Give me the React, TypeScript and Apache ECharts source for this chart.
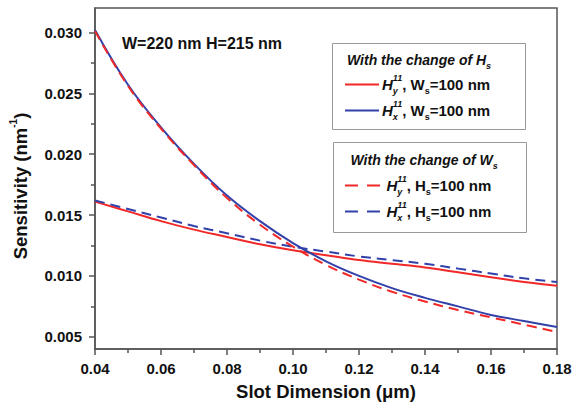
import React, { useEffect, useRef } from "react";
import * as echarts from "echarts";

// Slot dimension (µm)
const X_VALUES = [0.04, 0.05, 0.06, 0.07, 0.08, 0.09, 0.10, 0.11, 0.12, 0.13, 0.14, 0.15, 0.16, 0.17, 0.18];
// With the change of Hs (solid)
const HY_HS = [0.0161, 0.0153, 0.0145, 0.0138, 0.0132, 0.0126, 0.0121, 0.0117, 0.0113, 0.0110, 0.0107, 0.0103, 0.0099, 0.0095, 0.0092];
const HX_HS = [0.0302, 0.0257, 0.0222, 0.0192, 0.0166, 0.0145, 0.0127, 0.0112, 0.0100, 0.0090, 0.0082, 0.0075, 0.0068, 0.0063, 0.0058];
// With the change of Ws (dashed)
const HY_WS = [0.0301, 0.0256, 0.0221, 0.0191, 0.0164, 0.0142, 0.0124, 0.0109, 0.0097, 0.0087, 0.0079, 0.0072, 0.0066, 0.0060, 0.0054];
const HX_WS = [0.0162, 0.0155, 0.0148, 0.0141, 0.0135, 0.0129, 0.0124, 0.0120, 0.0116, 0.0113, 0.0110, 0.0106, 0.0102, 0.0098, 0.0095];

const Y_TICKS = [0.005, 0.01, 0.015, 0.02, 0.025, 0.03];
const Y_MINOR = [0.0075, 0.0125, 0.0175, 0.0225, 0.0275];

const RED = "#f02828";
const BLUE = "#3241aa";
const AXIS = "#555555";
const FONT = "'Liberation Sans', Arial, sans-serif";

type Seg = { t: string; s: number; i?: boolean; dy?: number };
type Part = Seg | { stack: Seg[] };

export default function App() {
  const ref = useRef<HTMLDivElement>(null);
  useEffect(() => {
    document.body.style.margin = "0";
    if (!ref.current) return;
    const chart = echarts.init(ref.current, undefined, { renderer: "svg" });

    const canvas = document.createElement("canvas");
    const ctx = canvas.getContext("2d")!;
    const measure = (s: Seg) => {
      ctx.font = `${s.i ? "italic " : ""}bold ${s.s}px ${FONT}`;
      return ctx.measureText(s.t).width;
    };
    const textEl = (x: number, y: number, s: Seg) => ({
      type: "text",
      x,
      y: y + (s.dy || 0),
      z: 20,
      style: {
        text: s.t,
        fontSize: s.s,
        fontWeight: "bold",
        fontStyle: s.i ? "italic" : "normal",
        fontFamily: FONT,
        fill: "#111",
        align: "left",
        verticalAlign: "middle",
      },
    });
    const rich = (x0: number, y: number, parts: Part[]) => {
      const out: any[] = [];
      let x = x0;
      parts.forEach((p) => {
        if ("stack" in p) {
          let mw = 0;
          p.stack.forEach((s) => {
            out.push(textEl(x, y, s));
            mw = Math.max(mw, measure(s));
          });
          x += mw;
        } else {
          out.push(textEl(x, y, p));
          x += measure(p);
        }
      });
      return out;
    };
    const item = (x: number, y: number, sub: string, w: string) =>
      rich(x, y, [
        { t: "H", s: 15, i: true },
        { stack: [{ t: "11", s: 9, i: true, dy: -7 }, { t: sub, s: 9, i: true, dy: 6 }] },
        { t: ", " + w, s: 15 },
        { t: "s", s: 9, dy: 6 },
        { t: "=100 nm", s: 15 },
      ]);
    const sample = (x1: number, x2: number, y: number, color: string, dashed: boolean) => ({
      type: "line",
      z: 20,
      shape: { x1, y1: y, x2, y2: y },
      style: { stroke: color, lineWidth: 2, lineDash: dashed ? [13, 9] : null },
    });
    const box = (x: number, y: number, width: number, height: number) => ({
      type: "rect",
      z: 15,
      shape: { x, y, width, height },
      style: { fill: "#fff", stroke: "#999", lineWidth: 1 },
    });

    const graphic: any[] = [
      {
        type: "text",
        x: 202,
        y: 43,
        z: 20,
        style: {
          text: "W=220 nm H=215 nm",
          fontSize: 16,
          fontWeight: "bold",
          fontFamily: FONT,
          fill: "#111",
          align: "center",
          verticalAlign: "middle",
        },
      },
      box(332.5, 43.5, 193, 86),
      ...rich(347, 60, [
        { t: "With the change of H", s: 14, i: true },
        { t: "s", s: 9, i: true, dy: 6 },
      ]),
      sample(345, 379, 84.5, RED, false),
      ...item(382, 84.5, "y", "W"),
      sample(345, 379, 110.5, BLUE, false),
      ...item(382, 110.5, "x", "W"),
      box(333.5, 142.5, 193, 90),
      ...rich(350.5, 160, [
        { t: "With the change of W", s: 14, i: true },
        { t: "s", s: 9, i: true, dy: 6 },
      ]),
      sample(345, 381, 185.5, RED, true),
      ...item(386.5, 185.5, "y", "H"),
      sample(345, 381, 211.5, BLUE, true),
      ...item(386.5, 211.5, "x", "H"),
    ];

    const pairs = (ys: number[]) => X_VALUES.map((x, i) => [x, ys[i]]);
    const lineSeries = (name: string, ys: number[], color: string, dashed: boolean) => ({
      name,
      type: "line",
      data: pairs(ys),
      smooth: 0.4,
      symbol: "none",
      lineStyle: { color, width: 2, type: dashed ? [10, 6] : "solid" },
      z: 3,
    });

    const baseY = {
      type: "value",
      min: 0.004,
      max: 0.032,
      position: "left",
      splitLine: { show: false },
    };

    chart.setOption({
      animation: false,
      backgroundColor: "#fff",
      grid: {
        left: 95,
        right: 19,
        top: 8,
        bottom: 55,
        show: true,
        borderColor: AXIS,
        borderWidth: 1.5,
        backgroundColor: "transparent",
      },
      xAxis: {
        type: "value",
        min: 0.04,
        max: 0.18,
        interval: 0.02,
        position: "bottom",
        splitLine: { show: false },
        minorSplitLine: { show: false },
        name: "Slot Dimension (μm)",
        nameLocation: "middle",
        nameGap: 33,
        nameTextStyle: { fontSize: 18.5, fontWeight: "bold", fontFamily: FONT, color: "#111" },
        axisLine: { show: true, lineStyle: { color: AXIS, width: 1.5 } },
        axisTick: { show: true, length: 6, inside: false, lineStyle: { color: AXIS, width: 1.5 } },
        minorTick: { show: true, splitNumber: 2, length: 4, lineStyle: { color: AXIS, width: 1.5 } },
        axisLabel: {
          show: true,
          margin: 12,
          fontSize: 15,
          fontWeight: "bold",
          fontFamily: FONT,
          color: "#111",
          formatter: (v: number) => v.toFixed(2),
        },
      },
      yAxis: [
        {
          ...baseY,
          name: "{a|Sensitivity (nm}{b|-1}{a|)}",
          nameLocation: "middle",
          nameGap: 63,
          nameTextStyle: {
            padding: [0, 15, 0, 0],
            rich: {
              a: { fontSize: 18.5, fontWeight: "bold", fontFamily: FONT, color: "#111", lineHeight: 24 },
              b: { fontSize: 10, fontWeight: "bold", fontFamily: FONT, color: "#111", lineHeight: 12, verticalAlign: "top" },
            },
          },
          axisLine: { show: true, lineStyle: { color: AXIS, width: 1.5 } },
          axisTick: { show: true, length: 6, inside: false, customValues: Y_TICKS, lineStyle: { color: AXIS, width: 1.5 } },
          axisLabel: {
            show: true,
            customValues: Y_TICKS,
            margin: 13,
            fontSize: 15,
            fontWeight: "bold",
            fontFamily: FONT,
            color: "#111",
            formatter: (v: number) => v.toFixed(3),
          },
        },
        {
          ...baseY,
          axisLine: { show: false },
          axisLabel: { show: true, customValues: Y_MINOR, formatter: () => "" },
          axisTick: { show: true, length: 4, inside: false, customValues: Y_MINOR, lineStyle: { color: AXIS, width: 1.5 } },
        },
      ],
      series: [
        lineSeries("Hy11, Ws=100 nm (change of Hs)", HY_HS, RED, false),
        lineSeries("Hx11, Ws=100 nm (change of Hs)", HX_HS, BLUE, false),
        lineSeries("Hx11, Hs=100 nm (change of Ws)", HX_WS, BLUE, true),
        lineSeries("Hy11, Hs=100 nm (change of Ws)", HY_WS, RED, true),
      ],
      graphic,
    });
    return () => chart.dispose();
  }, []);
  return <div ref={ref} style={{ width: 576, height: 406 }} />;
}
